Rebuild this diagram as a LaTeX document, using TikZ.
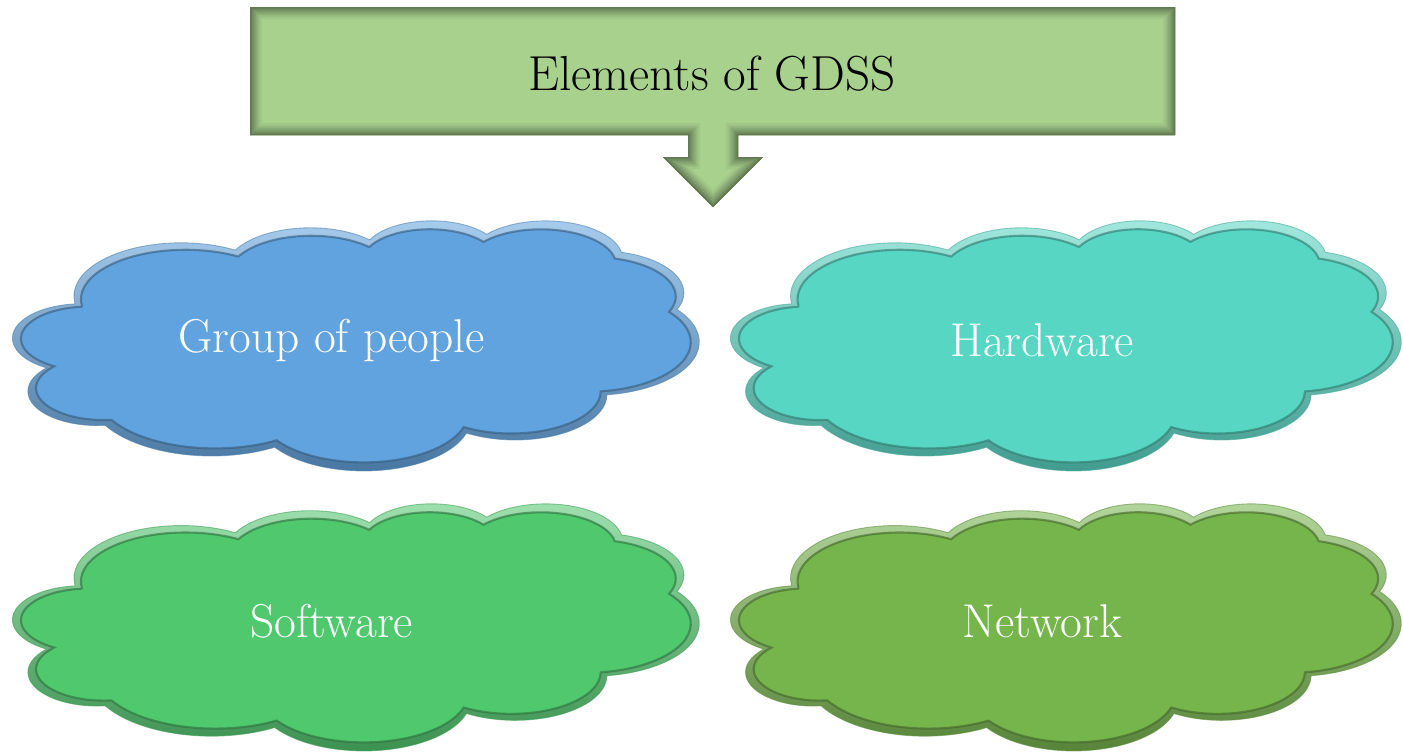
\documentclass[tikz,border=0pt]{standalone}

\definecolor{titlegreen}{RGB}{169,209,142}
\definecolor{peopleblue}{RGB}{97,163,222}
\definecolor{hwteal}{RGB}{87,214,196}
\definecolor{swgreen}{RGB}{80,200,110}
\definecolor{netgreen}{RGB}{118,181,76}

% One elliptical arc of the cloud outline. Angles are given as visual
% angles on a grid with y pointing down; TikZ wants parametric ones.
\newcommand\setcloudarc[5]{%
  \pgfmathsetmacro\cloudta{atan2(#2*sin(#4),#3*cos(#4))}%
  \pgfmathsetmacro\cloudtb{atan2(#2*sin(#4+#5),#3*cos(#4+#5))}%
  \pgfmathsetmacro\cloudtd{\cloudtb-\cloudta}%
  \pgfmathsetmacro\cloudtd{\cloudtd<0 ? \cloudtd+360 : \cloudtd}%
  \expandafter\xdef\csname cloudarc#1\endcsname{arc[start angle=\cloudta, delta angle=\cloudtd, x radius=#2, y radius=#3]}%
}
\setcloudarc{A}{6.753}{9.190}{-190.48748}{123.78053}
\setcloudarc{B}{5.333}{7.267}{-144.10238}{89.94523}
\setcloudarc{C}{4.365}{5.945}{-145.80792}{99.72302}
\setcloudarc{D}{4.857}{6.595}{-130.98607}{117.24173}
\setcloudarc{E}{5.333}{7.273}{-78.70888}{109.02692}
\setcloudarc{F}{6.775}{9.220}{-46.26725}{130.26900}
\setcloudarc{G}{5.785}{7.867}{0.62502}{114.03333}
\setcloudarc{H}{6.752}{9.215}{22.45160}{115.17255}
\setcloudarc{I}{7.720}{10.543}{66.24263}{75.71102}
\setcloudarc{J}{4.360}{5.918}{-274.94208}{146.73557}
\setcloudarc{K}{4.345}{5.945}{-246.82850}{152.51885}

% Cloud outline on a 43.2 x 43.2 grid
\def\cloudoutline{(3.9,14.37) \cloudarcA \cloudarcB \cloudarcC \cloudarcD
  \cloudarcE \cloudarcF \cloudarcG \cloudarcH \cloudarcI \cloudarcJ
  \cloudarcK -- cycle}

% Header box with its down arrow, in pixel units
\def\titleoutline{(250,7) -- (1175,7) -- (1175,135) -- (738,135) --
  (738,157) -- (763,157) -- (713,207) -- (663,157) -- (688,157) --
  (688,135) -- (250,135) -- cycle}

\tikzset{
  cloudlabel/.style={font=\fontsize{27}{32}\selectfont, inner sep=0pt,
    text=white},
  titlelabel/.style={font=\fontsize{28}{33}\selectfont, inner sep=0pt,
    text=black},
}

% #1 left, #2 top, #3 width, #4 height (pixels), #5 colour, #6 name, #7 text
\newcommand\gdsscloud[7]{%
  \pgfmathsetmacro\cloudsx{#3*0.02/43.2}%
  \pgfmathsetmacro\cloudsy{#4*0.02/43.2}%
  \begin{scope}[shift={(#1,#2)}, x=\cloudsx cm, y=-\cloudsy cm]
    \shade[top color=#5!55!white, middle color=#5!95!black,
           bottom color=#5!72!black] \cloudoutline;
    \draw[#5!80!black, line width=0.5pt, opacity=0.6] \cloudoutline;
  \end{scope}
  \pgfmathsetmacro\cloudsx{(#3-17)*0.02/43.2}%
  \pgfmathsetmacro\cloudsy{(#4-17)*0.02/43.2}%
  \begin{scope}[shift={(#1+8.5,#2+8.5)}, x=\cloudsx cm, y=-\cloudsy cm]
    \fill[#5] \cloudoutline;
    \draw[#5!55!black, line width=1.2pt, opacity=0.6] \cloudoutline;
  \end{scope}
  \node[cloudlabel] (#6) at ({#1+0.4645*#3},{#2+0.48*#4}) {#7};
}

\begin{document}
\begin{tikzpicture}[x=0.02cm, y=-0.02cm]
  \useasboundingbox (0,0) rectangle (1403,752);

  % header box with inner shadow
  \begin{scope}
    \clip \titleoutline;
    \fill[titlegreen] \titleoutline;
    \foreach \w/\c in {24/95, 19/89, 15/82, 11/75, 7/67, 3/58}{
      \draw[line width=\w*0.02cm, titlegreen!\c!black, line join=miter]
        \titleoutline;
    }
  \end{scope}
  \node[titlelabel] (title) at (712,74) {Elements of GDSS};

  \gdsscloud{13}{220}{686}{250}{peopleblue}{people}{Group of people}
  \gdsscloud{731}{220}{670}{250}{hwteal}{hardware}{Hardware}
  \gdsscloud{13}{503}{686}{247}{swgreen}{software}{Software}
  \gdsscloud{731}{503}{670}{247}{netgreen}{network}{Network}
\end{tikzpicture}
\end{document}
